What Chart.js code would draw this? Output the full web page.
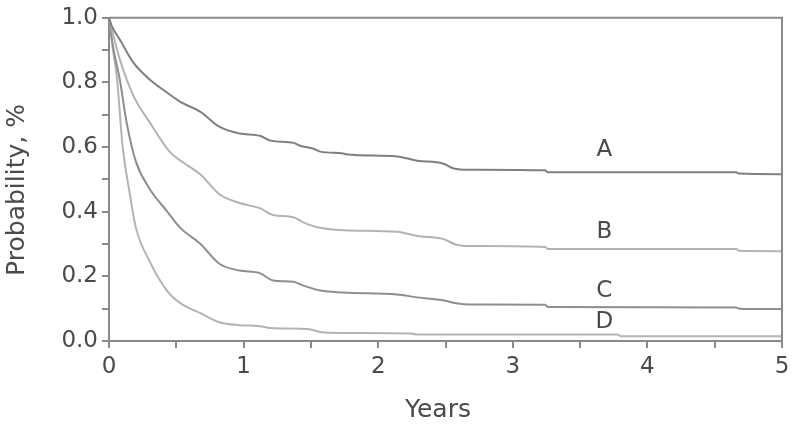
<!DOCTYPE html>
<html>
<head>
<meta charset="utf-8">
<script src="https://cdn.jsdelivr.net/npm/chart.js@4.4.1/dist/chart.umd.min.js"></script>
<style>
  html, body { margin: 0; padding: 0; background: #fff; }
  #grafico { display: block; }
</style>
</head>
<body>
<canvas id="grafico" width="800" height="428"></canvas>
<script>
// curvas (anos, probabilidade)
const anosA = [0, 0.02, 0.08, 0.18, 0.3, 0.42, 0.53, 0.68, 0.82, 0.97, 1.12, 1.2, 1.37, 1.42, 1.52, 1.57, 1.74, 1.77, 2.14, 2.29, 2.48, 2.56, 2.68, 3.24, 3.26, 4.66, 4.68, 5.0];
const probA = [1.0, 0.975, 0.933, 0.862, 0.81, 0.772, 0.74, 0.709, 0.663, 0.642, 0.635, 0.62, 0.613, 0.604, 0.595, 0.586, 0.58, 0.577, 0.571, 0.558, 0.549, 0.534, 0.53, 0.528, 0.522, 0.522, 0.518, 0.516];

const anosB = [0, 0.03, 0.08, 0.18, 0.3, 0.45, 0.56, 0.68, 0.82, 0.97, 1.12, 1.22, 1.37, 1.44, 1.54, 1.74, 2.14, 2.29, 2.48, 2.58, 2.68, 3.24, 3.26, 4.66, 4.68, 5.0];
const probB = [1.0, 0.95, 0.872, 0.76, 0.678, 0.586, 0.55, 0.515, 0.454, 0.427, 0.411, 0.39, 0.383, 0.368, 0.353, 0.343, 0.338, 0.325, 0.316, 0.298, 0.294, 0.291, 0.285, 0.285, 0.279, 0.278];

const anosC = [0, 0.03, 0.08, 0.13, 0.2, 0.3, 0.43, 0.53, 0.68, 0.82, 0.97, 1.12, 1.22, 1.37, 1.44, 1.57, 1.74, 2.14, 2.29, 2.48, 2.58, 2.68, 3.24, 3.26, 4.66, 4.68, 5.0];
const probC = [1.0, 0.91, 0.81, 0.678, 0.555, 0.472, 0.402, 0.35, 0.30, 0.239, 0.218, 0.21, 0.187, 0.183, 0.172, 0.156, 0.15, 0.144, 0.135, 0.126, 0.117, 0.113, 0.112, 0.105, 0.104, 0.1, 0.099];

const anosD = [0, 0.03, 0.06, 0.1, 0.155, 0.2, 0.3, 0.43, 0.53, 0.68, 0.82, 0.97, 1.12, 1.2, 1.49, 1.57, 1.74, 2.24, 2.29, 3.78, 3.8, 5.0];
const probD = [1.0, 0.9, 0.81, 0.607, 0.454, 0.35, 0.248, 0.156, 0.117, 0.086, 0.058, 0.049, 0.046, 0.04, 0.036, 0.028, 0.025, 0.023, 0.02, 0.02, 0.015, 0.015];

const nomes = ['A', 'B', 'C', 'D'];
const cores = ['#7f7f7f', '#b3b3b3', '#8e8e8e', '#b3b3b3'];

const fonte = "'DejaVu Sans', Arial, sans-serif";
const corTexto = '#4a4a4a';
const corEixo = '#8a8a8a';

function juntar(anos, prob) {
    return anos.map((a, i) => ({ x: a, y: prob[i] }));
}

const series = [juntar(anosA, probA), juntar(anosB, probB), juntar(anosC, probC), juntar(anosD, probD)];

// rotulos das curvas (ano, probabilidade)
const rotulos = [
    { texto: 'A', x: 3.68, y: 0.59 },
    { texto: 'B', x: 3.68, y: 0.337 },
    { texto: 'C', x: 3.68, y: 0.156 },
    { texto: 'D', x: 3.68, y: 0.058 }
];

const tituloX = 'Years';
const tituloY = 'Probability, %';

const moldura = {
    id: 'moldura',
    afterDraw(chart) {
        const { ctx, chartArea, scales } = chart;
        ctx.save();
        ctx.strokeStyle = corEixo;
        ctx.lineWidth = 2;
        ctx.beginPath();
        ctx.moveTo(chartArea.left, chartArea.top);
        ctx.lineTo(chartArea.right, chartArea.top);
        ctx.lineTo(chartArea.right, chartArea.bottom);
        ctx.stroke();

        ctx.fillStyle = corTexto;
        ctx.font = '23px ' + fonte;
        ctx.textAlign = 'center';
        ctx.textBaseline = 'middle';
        rotulos.forEach((r) => {
            ctx.fillText(r.texto, scales.x.getPixelForValue(r.x), scales.y.getPixelForValue(r.y));
        });

        // titulos dos eixos
        ctx.font = '25px ' + fonte;
        ctx.fillText(tituloX, 438, 410);
        ctx.translate(17, 190);
        ctx.rotate(-Math.PI / 2);
        ctx.fillText(tituloY, 0, 0);
        ctx.restore();
    }
};

const config = {
    type: 'line',
    data: {
        datasets: series.map((dados, i) => ({
            label: nomes[i],
            data: dados,
            borderColor: cores[i],
            borderWidth: 2,
            pointRadius: 0,
            cubicInterpolationMode: 'monotone',
            fill: false
        }))
    },
    options: {
        responsive: false,
        animation: false,
        layout: { padding: { top: 15, right: 18, left: 0, bottom: 0 } },
        plugins: {
            legend: { display: false },
            tooltip: { enabled: false }
        },
        scales: {
            x: {
                type: 'linear',
                min: 0,
                max: 5,
                afterFit: (escala) => { escala.height = 87; },
                ticks: {
                    stepSize: 0.5,
                    autoSkip: false,
                    maxRotation: 0,
                    color: corTexto,
                    font: { size: 23, family: fonte },
                    padding: 5,
                    callback: (v) => Number.isInteger(v) ? String(v) : ''
                },
                grid: {
                    drawOnChartArea: false,
                    drawTicks: true,
                    tickLength: 7,
                    color: corEixo,
                    lineWidth: 2
                },
                border: { color: corEixo, width: 2 }
            },
            y: {
                min: 0,
                max: 1,
                afterFit: (escala) => { escala.width = 109; },
                ticks: {
                    stepSize: 0.1,
                    autoSkip: false,
                    color: corTexto,
                    font: { size: 23, family: fonte },
                    padding: 4,
                    callback: (v) => {
                        const n = Math.round(v * 10);
                        return n % 2 === 0 ? (n / 10).toFixed(1) : '';
                    }
                },
                grid: {
                    drawOnChartArea: false,
                    drawTicks: true,
                    tickLength: 7,
                    color: corEixo,
                    lineWidth: 2
                },
                border: { color: corEixo, width: 2 }
            }
        }
    },
    plugins: [moldura]
};

const grafico = new Chart(document.getElementById('grafico'), config);
</script>
</body>
</html>
